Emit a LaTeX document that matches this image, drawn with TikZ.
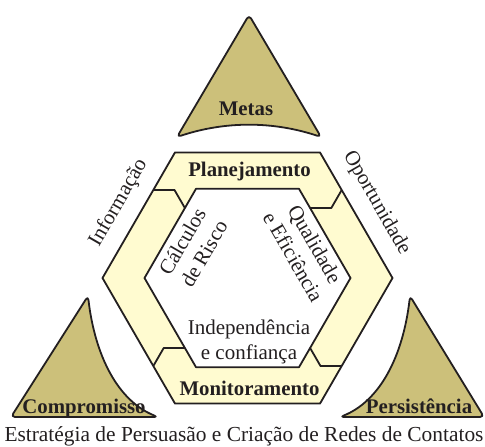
\documentclass[tikz,border=0pt]{standalone}
\usepackage{fontspec}
\setmainfont{Liberation Serif}
\definecolor{ringfill}{HTML}{FFFBD0}
\definecolor{trifill}{HTML}{CCC07A}
\definecolor{ink}{HTML}{231F20}

\begin{document}
\begin{tikzpicture}[x=0.5pt,y=0.5pt,
    inkline/.style={draw=ink,line width=0.9pt,line join=round},
    tri/.style={inkline,fill=trifill,rounded corners=2pt},
    boldlabel/.style={text=ink,font=\fontsize{10.4}{12.5}\selectfont\bfseries,inner sep=0pt},
    plainlabel/.style={text=ink,font=\fontsize{10.5}{12.5}\selectfont,align=center,inner sep=0pt}]
    \useasboundingbox (0,0) rectangle (485,446);

    % the three corner pieces
    \draw[tri] (249,431) -- (321,309) .. controls (273,325) and (225,325) .. (177,309) -- cycle;
    \draw[tri] (88,150) .. controls (95,90) and (118,45) .. (158,29) -- (11,29) -- cycle;
    \draw[tri] (410,150) .. controls (403,90) and (380,45) .. (340,29) -- (484,29) -- cycle;

    % hexagonal ring, cut in four parts
    \begin{scope}[shift={(247.5,168)}]
      \fill[ringfill,even odd rule]
        (0:145) -- (60:145) -- (120:145) -- (180:145) -- (240:145) -- (300:145) -- cycle
        (0:103) -- (60:103) -- (120:103) -- (180:103) -- (240:103) -- (300:103) -- cycle;
      \draw[inkline] (0:145) -- (60:145) -- (120:145) -- (180:145) -- (240:145) -- (300:145) -- cycle;
      \draw[inkline] (0:103) -- (60:103) -- (120:103) -- (180:103) -- (240:103) -- (300:103) -- cycle;
      \foreach \r in {0,180}
      {
        \draw[inkline,rotate=\r] (-94.2,88) -- (-73,88) -- (-62.6,70);
        \draw[inkline,rotate=\r] (62.6,70) -- (83.8,70) -- (94.2,88);
      }
      \node (plan) at (2,101.3) [boldlabel,anchor=base] {Planejamento};
      \node (monit) at (2,-117.5) [boldlabel,anchor=base] {Monitoramento};
      \node (indep) at (1.5,-64) [plainlabel] {Independência\\e confiança};
      \node (calc) at (-54.5,30.5) [plainlabel,rotate=60] {Cálculos\\de Risco};
      \node (qual) at (56.7,27.6) [plainlabel,rotate=-60] {Qualidade\\e Eficiência};
      \node (info) at (-129,75) [plainlabel,rotate=60] {Informação};
      \node (oport) at (129,75) [plainlabel,rotate=-60] {Oportunidade};
    \end{scope}

    \node (metas) at (246,331) [boldlabel,anchor=base] {Metas};
    \node (compr) at (84,32.5) [boldlabel,anchor=base] {Compromisso};
    \node (persist) at (419,32.5) [boldlabel,anchor=base] {Persistência};
    \node (caption) at (244,5) [plainlabel,anchor=base,font=\fontsize{10.7}{12.5}\selectfont] {Estratégia de Persuasão e Criação de Redes de Contatos};
\end{tikzpicture}
\end{document}
